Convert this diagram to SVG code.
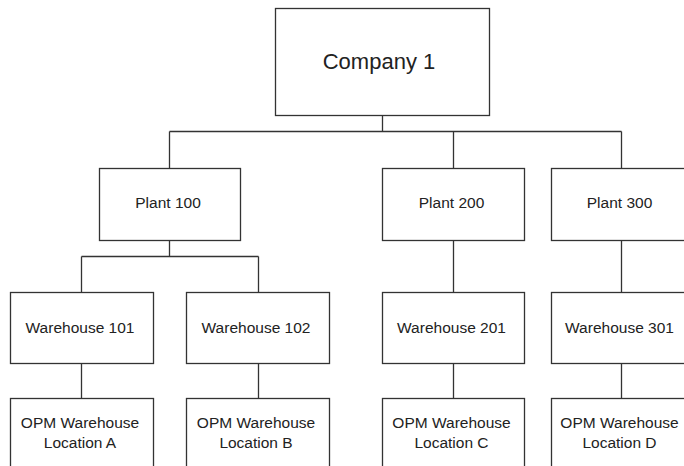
<svg xmlns="http://www.w3.org/2000/svg" width="684" height="466" viewBox="0 0 684 466">
<style>
.box{fill:#fff;stroke:#333;stroke-width:1.3}
.ln{fill:none;stroke:#333;stroke-width:1.3}
text{font-family:"Liberation Sans",Arial,sans-serif;fill:#222;text-anchor:middle}
.s{font-size:15.5px}
.l{font-size:22px}
</style>
<rect width="684" height="466" fill="#fff"/>
<g id="connectors" class="ln">
<path d="M382.5 115.5V131.5M169.5 131.5H621.5M169.5 131.5V168.5M453.5 131.5V168.5M621.5 131.5V168.5"/>
<path d="M169.5 240.5V256.5M81.5 256.5H258.5M81.5 256.5V292.5M258.5 256.5V292.5"/>
<path d="M453.5 240.5V292.5M621.5 240.5V292.5"/>
<path d="M81.5 363.5V398.5M258.5 363.5V398.5M453.5 363.5V398.5M621.5 363.5V398.5"/>
</g>
<g id="company1"><rect class="box" x="275.5" y="8.5" width="214" height="107"/><text class="l" x="379" y="69">Company 1</text></g>
<g id="plant100"><rect class="box" x="99.5" y="168.5" width="141" height="72"/><text class="s" x="168" y="208">Plant 100</text></g>
<g id="plant200"><rect class="box" x="382.5" y="168.5" width="142" height="72"/><text class="s" x="451.5" y="208">Plant 200</text></g>
<g id="plant300"><rect class="box" x="551.5" y="168.5" width="140" height="72"/><text class="s" x="619.5" y="208">Plant 300</text></g>
<g id="wh101"><rect class="box" x="10.5" y="292.5" width="143" height="71"/><text class="s" x="80" y="333">Warehouse 101</text></g>
<g id="wh102"><rect class="box" x="186.5" y="292.5" width="143" height="71"/><text class="s" x="256" y="333">Warehouse 102</text></g>
<g id="wh201"><rect class="box" x="382.5" y="292.5" width="142" height="71"/><text class="s" x="451.5" y="333">Warehouse 201</text></g>
<g id="wh301"><rect class="box" x="551.5" y="292.5" width="140" height="71"/><text class="s" x="619.5" y="333">Warehouse 301</text></g>
<g id="locA"><rect class="box" x="10.5" y="398.5" width="143" height="80"/><text class="s" x="80" y="428">OPM Warehouse</text><text class="s" x="80" y="448">Location A</text></g>
<g id="locB"><rect class="box" x="186.5" y="398.5" width="143" height="80"/><text class="s" x="256" y="428">OPM Warehouse</text><text class="s" x="256" y="448">Location B</text></g>
<g id="locC"><rect class="box" x="382.5" y="398.5" width="142" height="80"/><text class="s" x="451.5" y="428">OPM Warehouse</text><text class="s" x="451.5" y="448">Location C</text></g>
<g id="locD"><rect class="box" x="551.5" y="398.5" width="140" height="80"/><text class="s" x="619.5" y="428">OPM Warehouse</text><text class="s" x="619.5" y="448">Location D</text></g>
</svg>
